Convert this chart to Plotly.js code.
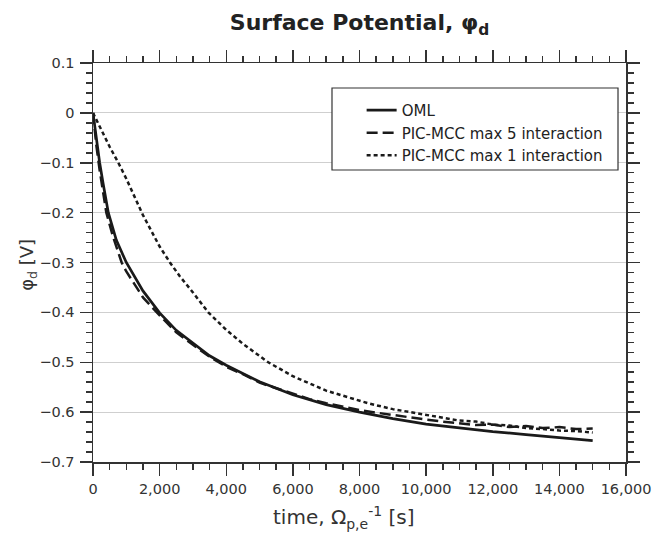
<!DOCTYPE html>
<html>
<head>
<meta charset="utf-8">
<script src="https://cdn.plot.ly/plotly-3.0.1.min.js"></script>
<style>html,body{margin:0;padding:0;background:#fff;}#chart{width:671px;height:536px;}</style>
</head>
<body>
<div id="chart"></div>
<script>
// time, Ω_p,e^-1 [s]
const omlTime = [0, 100, 200, 300, 460, 700, 1000, 1500, 2000, 2500, 2760, 3000, 3500, 4000, 5000, 6000, 7000, 8000, 9000, 10000, 11000, 12000, 13000, 14000, 15000];
const omlPhi  = [0, -0.055, -0.1, -0.14, -0.2, -0.255, -0.3, -0.357, -0.401, -0.436, -0.449, -0.462, -0.487, -0.506, -0.539, -0.565, -0.585, -0.600, -0.613, -0.624, -0.632, -0.639, -0.645, -0.651, -0.657];

const pic5Time = [0, 100, 200, 300, 400, 600, 860, 1000, 1500, 2000, 2500, 3000, 3500, 4000, 4500, 5000, 5500, 6000, 6500, 7000, 7500, 8000, 8500, 9000, 9500, 10000, 10500, 11000, 11500, 12000, 12500, 13000, 13500, 14000, 14500, 15000];
const pic5Phi  = [0, -0.065, -0.115, -0.155, -0.2, -0.248, -0.3, -0.318, -0.37, -0.406, -0.44, -0.465, -0.489, -0.509, -0.524, -0.541, -0.552, -0.564, -0.574, -0.582, -0.589, -0.596, -0.601, -0.606, -0.611, -0.615, -0.619, -0.622, -0.626, -0.625, -0.630, -0.628, -0.632, -0.630, -0.634, -0.633];

const pic1Time = [0, 250, 500, 760, 1000, 1500, 2000, 2310, 2610, 3000, 3460, 4000, 4500, 5260, 6000, 7000, 8000, 8300, 9000, 9500, 10000, 10500, 11000, 11500, 12000, 12500, 13000, 13500, 14000, 14500, 15000];
const pic1Phi  = [0, -0.035, -0.068, -0.1, -0.132, -0.205, -0.268, -0.3, -0.328, -0.36, -0.4, -0.435, -0.463, -0.5, -0.528, -0.557, -0.578, -0.583, -0.594, -0.600, -0.606, -0.611, -0.617, -0.619, -0.625, -0.627, -0.632, -0.634, -0.637, -0.638, -0.641];

const seriesNames = ['OML', 'PIC-MCC max 5 interaction', 'PIC-MCC max 1 interaction'];
const titleText = 'Surface Potential, φ<sub>d</sub>';
const xTitleText = 'time, Ω<sub>p,e</sub><sup>-1</sup> [s]';
const yTitleText = 'φ<sub>d</sub> [V]';

const FONT = 'DejaVu Sans, Verdana, sans-serif';
const lineColor = '#1a1a1a';

const traces = [
  {x: omlTime, y: omlPhi, name: seriesNames[0], mode: 'lines', line: {color: lineColor, width: 2.7}},
  {x: pic5Time, y: pic5Phi, name: seriesNames[1], mode: 'lines', line: {color: lineColor, width: 2.5, dash: '11px,5px'}},
  {x: pic1Time, y: pic1Phi, name: seriesNames[2], mode: 'lines', line: {color: lineColor, width: 2.5, dash: '4px,3px'}}
];

const axisCommon = {
  showline: true, linecolor: '#333', linewidth: 1.5,
  mirror: 'allticks', ticks: 'outside', ticklen: 12, tickwidth: 1.5, tickcolor: '#333',
  zeroline: false, automargin: false,
  tickfont: {family: FONT, size: 14.5, color: '#333'}
};

const layout = {
  width: 671, height: 536,
  margin: {l: 93, r: 45, t: 63, b: 74},
  paper_bgcolor: '#fff', plot_bgcolor: '#fff',
  font: {family: FONT, color: '#333'},
  title: {
    text: titleText,
    font: {family: FONT, size: 22, color: '#222', weight: 'bold'},
    x: 0.5, xref: 'paper', xanchor: 'center',
    y: 0.958, yref: 'container', yanchor: 'middle'
  },
  xaxis: Object.assign({}, axisCommon, {
    range: [0, 16000], dtick: 2000, tick0: 0, tickformat: ',d',
    showgrid: false, ticklabelstandoff: 1,
    minor: {dtick: 500, ticks: 'outside', ticklen: 6, tickwidth: 1.5, tickcolor: '#333', showgrid: false}
  }),
  yaxis: Object.assign({}, axisCommon, {
    range: [-0.7, 0.1], dtick: 0.1, tick0: 0,
    showgrid: true, gridcolor: '#cfcfcf', gridwidth: 1, ticklabelstandoff: 2,
    minor: {dtick: 0.02, ticks: 'outside', ticklen: 6, tickwidth: 1.5, tickcolor: '#333', showgrid: false}
  }),
  annotations: [
    {text: xTitleText, xref: 'paper', yref: 'paper', x: 0.471, y: -0.14, xanchor: 'center', yanchor: 'middle',
     showarrow: false, font: {family: FONT, size: 20, color: '#333'}},
    {text: yTitleText, xref: 'paper', yref: 'paper', x: -0.122, y: 0.494, xanchor: 'center', yanchor: 'middle',
     textangle: -90, showarrow: false, font: {family: FONT, size: 18, color: '#333'}}
  ],
  showlegend: true,
  legend: {
    x: 0.504, y: 0.9225, xanchor: 'left', yanchor: 'top',
    bgcolor: 'rgba(0,0,0,0)', borderwidth: 0,
    font: {family: FONT, size: 15, color: '#222'},
    tracegroupgap: 0
  },
  shapes: [{
    type: 'rect', xref: 'paper', yref: 'paper',
    x0: 0.4484, x1: 0.985, y0: 0.7318, y1: 0.9373,
    line: {color: '#333', width: 1.2}, fillcolor: '#fff', layer: 'above'
  }]
};

Plotly.newPlot('chart', traces, layout, {displayModeBar: false, staticPlot: true});
</script>
</body>
</html>
